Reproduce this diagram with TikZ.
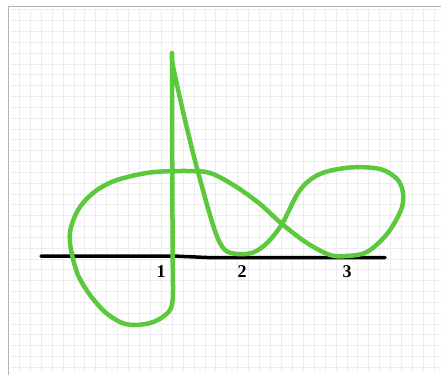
\documentclass[tikz,border=0pt]{standalone}
\usepackage{fontspec}
\setmainfont{Liberation Serif}
\usepackage{tkz-euclide}
\usetikzlibrary{calc}
\definecolor{curvegreen}{RGB}{92,200,60}
\definecolor{gridgray}{RGB}{234,236,240}
\definecolor{framegray}{RGB}{180,180,180}
\tikzset{gridline/.style={gridgray,line width=.8pt},
  curve/.style={curvegreen,line width=4.5pt,line cap=round,line join=round},
  axis/.style={black,line width=3.5pt,line cap=round},
  numlabel/.style={font=\fontsize{18}{18}\selectfont\bfseries,inner sep=0pt}}
\begin{document}
\begin{tikzpicture}[x=1pt,y=-1pt]
\useasboundingbox (0,0) rectangle (441,375);

% squared paper
\foreach \i in {0,...,38}
  \draw[gridline] (19.3+10.92*\i,10) -- (19.3+10.92*\i,371);
\foreach \j in {-1,...,32}
  \draw[gridline] (11,20.7+10.83*\j) -- (441,20.7+10.83*\j);
\draw[framegray,line width=1pt] (8.3,375) -- (8.3,6) -- (441,6);

\tkzDefPoints{41/256/L,173/256/M,207/257.5/N,385/257.5/R}
\tkzDefPoints{161/272/P1,242/272/P2,347/272/P3}

% the line
\draw[axis] (L) -- (M) -- (N) -- (R);

% the curve
\draw[curve] plot[smooth,tension=.55] coordinates {
  (172,53) (172.3,180) (172.7,260) (172.3,303) (164,316) (150,323)
  (133,325) (120,322) (105,312) (90,295) (78,275) (71,250) (70,232)
  (75,216) (83,203) (97,190) (117,180) (150,172.5) (187,171) (210,173)
  (235,186) (260,204) (282,224) (307,243) (330,255) (347,256)
  (367,252) (387,234) (401,210) (403,193) (397,179) (380,169)
  (350,167.5) (320,174) (300,190) (282,224) (267,243) (253,252.5)
  (237,254) (224,249) (214,228) (198,172) (185,120) (173,66) (172,53)};

\node[numlabel] (one) at (P1) {1};
\node[numlabel] (two) at (P2) {2};
\node[numlabel] (three) at (P3) {3};
\end{tikzpicture}
\end{document}
